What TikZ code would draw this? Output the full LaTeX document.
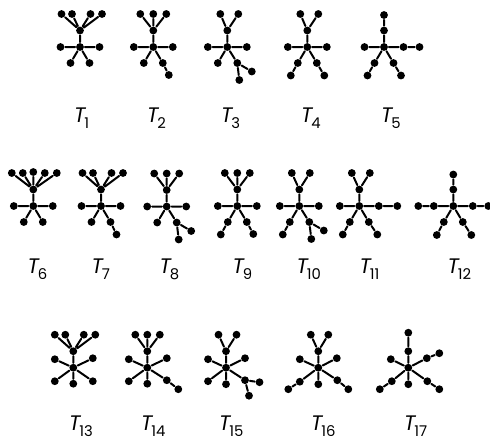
\documentclass[tikz,border=0pt]{standalone}
\usepackage{fontspec}
\setmainfont{Poppins}
\usepackage{tikz}
\tikzset{
  dot/.style={circle,fill=black,inner sep=0pt,minimum size=3.9pt},
  lbl/.style={inner sep=0pt,anchor=base west,font=\fontsize{10.5}{12}\selectfont}
}
\newcommand{\Tlab}[1]{{\itshape T}\kern-0.5pt\raisebox{-3pt}{\fontsize{7.4}{8}\selectfont #1}}

\begin{document}
\begin{tikzpicture}[x=0.5pt,y=-0.5pt,line width=1pt,line cap=round,line join=round]
\path[use as bounding box] (0,0) rectangle (490,440);
% T1
\begin{scope}[shift={(80,47)}]
\node[dot] (t1) at (0,0) {};
\node[dot] (t1h) at (0,-16.5) {};
\node[dot] (t1a) at (-18.5,-33) {};
\node[dot] (t1b) at (-8,-33) {};
\node[dot] (t1c) at (10.5,-33) {};
\node[dot] (t1d) at (22,-33) {};
\node[dot] (t1l) at (-19.5,0) {};
\node[dot] (t1r) at (19.5,0) {};
\node[dot] (t1p) at (-9.5,16) {};
\node[dot] (t1q) at (9.5,16) {};
\draw (t1) -- (t1h) (t1h) -- (t1a) (t1h) -- (t1b) (t1h) -- (t1c) (t1h) -- (t1d)
      (t1) -- (t1l) (t1) -- (t1r) (t1) -- (t1p) (t1) -- (t1q);
\end{scope}
% T2
\begin{scope}[shift={(153.3,47)}]
\node[dot] (t2) at (0,0) {};
\node[dot] (t2h) at (0,-16.5) {};
\node[dot] (t2a) at (-13,-33) {};
\node[dot] (t2b) at (0,-33) {};
\node[dot] (t2c) at (13,-33) {};
\node[dot] (t2l) at (-19.5,0) {};
\node[dot] (t2r) at (19.5,0) {};
\node[dot] (t2p) at (-9.5,16) {};
\node[dot] (t2q) at (9.5,16) {};
\node[dot] (t2s) at (15.5,28) {};
\draw (t2) -- (t2h) (t2h) -- (t2a) (t2h) -- (t2b) (t2h) -- (t2c)
      (t2) -- (t2l) (t2) -- (t2r) (t2) -- (t2p) (t2) -- (t2q) (t2q) -- (t2s);
\end{scope}
% T3
\begin{scope}[shift={(227.3,47)}]
\node[dot] (t3) at (0,0) {};
\node[dot] (t3h) at (0,-16.5) {};
\node[dot] (t3a) at (-7,-33) {};
\node[dot] (t3b) at (11,-33) {};
\node[dot] (t3l) at (-19.5,0) {};
\node[dot] (t3r) at (19.5,0) {};
\node[dot] (t3p) at (-9.5,16) {};
\node[dot] (t3q) at (10,16) {};
\node[dot] (t3s) at (24.5,24.5) {};
\node[dot] (t3t) at (12,33) {};
\draw (t3) -- (t3h) (t3h) -- (t3a) (t3h) -- (t3b)
      (t3) -- (t3l) (t3) -- (t3r) (t3) -- (t3p) (t3) -- (t3q)
      (t3q) -- (t3s) (t3q) -- (t3t);
\end{scope}
% T4
\begin{scope}[shift={(307.3,47)}]
\node[dot] (t4) at (0,0) {};
\node[dot] (t4h) at (0,-16.5) {};
\node[dot] (t4a) at (-7,-33) {};
\node[dot] (t4b) at (11,-33) {};
\node[dot] (t4l) at (-19.5,0) {};
\node[dot] (t4r) at (19.5,0) {};
\node[dot] (t4p) at (-9.5,16) {};
\node[dot] (t4u) at (-16.5,28.5) {};
\node[dot] (t4q) at (9.5,16) {};
\node[dot] (t4s) at (17,28.5) {};
\draw (t4) -- (t4h) (t4h) -- (t4a) (t4h) -- (t4b)
      (t4) -- (t4l) (t4) -- (t4r) (t4) -- (t4p) (t4p) -- (t4u)
      (t4) -- (t4q) (t4q) -- (t4s);
\end{scope}
% T5
\begin{scope}[shift={(384,47)}]
\node[dot] (t5) at (0,0) {};
\node[dot] (t5h) at (0,-16.5) {};
\node[dot] (t5a) at (0,-32) {};
\node[dot] (t5l) at (-19.5,0) {};
\node[dot] (t5r) at (19.5,0) {};
\node[dot] (t5v) at (35.5,0) {};
\node[dot] (t5p) at (-9.5,16) {};
\node[dot] (t5u) at (-16.5,28.5) {};
\node[dot] (t5q) at (9.5,16) {};
\node[dot] (t5s) at (17,28.5) {};
\draw (t5) -- (t5h) (t5h) -- (t5a)
      (t5) -- (t5l) (t5) -- (t5r) (t5r) -- (t5v)
      (t5) -- (t5p) (t5p) -- (t5u) (t5) -- (t5q) (t5q) -- (t5s);
\end{scope}
% T6
\begin{scope}[shift={(33.3,206)}]
\node[dot] (t6) at (0,0) {};
\node[dot] (t6h) at (0,-16.5) {};
\node[dot] (t6a) at (-21.5,-33) {};
\node[dot] (t6b) at (-10.5,-33) {};
\node[dot] (t6c) at (0,-34) {};
\node[dot] (t6d) at (11.5,-33) {};
\node[dot] (t6e) at (23.5,-33) {};
\node[dot] (t6l) at (-19.5,0) {};
\node[dot] (t6r) at (19.5,0) {};
\node[dot] (t6p) at (-9.5,16) {};
\node[dot] (t6q) at (9.5,16) {};
\draw (t6) -- (t6h) (t6h) -- (t6a) (t6h) -- (t6b) (t6h) -- (t6c) (t6h) -- (t6d) (t6h) -- (t6e)
      (t6) -- (t6l) (t6) -- (t6r) (t6) -- (t6p) (t6) -- (t6q);
\end{scope}
% T7
\begin{scope}[shift={(101,206)}]
\node[dot] (t7) at (0,0) {};
\node[dot] (t7h) at (0,-16.5) {};
\node[dot] (t7a) at (-18.5,-33) {};
\node[dot] (t7b) at (-8,-33) {};
\node[dot] (t7c) at (10.5,-33) {};
\node[dot] (t7d) at (22,-33) {};
\node[dot] (t7l) at (-19.5,0) {};
\node[dot] (t7r) at (19.5,0) {};
\node[dot] (t7p) at (-9.5,16) {};
\node[dot] (t7q) at (9.5,16) {};
\node[dot] (t7s) at (15.5,28.5) {};
\draw (t7) -- (t7h) (t7h) -- (t7a) (t7h) -- (t7b) (t7h) -- (t7c) (t7h) -- (t7d)
      (t7) -- (t7l) (t7) -- (t7r) (t7) -- (t7p) (t7) -- (t7q) (t7q) -- (t7s);
\end{scope}
% T8
\begin{scope}[shift={(166.7,206.5)}]
\node[dot] (t8) at (0,0) {};
\node[dot] (t8h) at (0,-16.5) {};
\node[dot] (t8a) at (-12.5,-33) {};
\node[dot] (t8b) at (0,-33) {};
\node[dot] (t8c) at (12.5,-33) {};
\node[dot] (t8l) at (-19.5,0) {};
\node[dot] (t8r) at (19.5,0) {};
\node[dot] (t8p) at (-9.5,16) {};
\node[dot] (t8q) at (10,16) {};
\node[dot] (t8s) at (24.5,24.5) {};
\node[dot] (t8t) at (12,33) {};
\draw (t8) -- (t8h) (t8h) -- (t8a) (t8h) -- (t8b) (t8h) -- (t8c)
      (t8) -- (t8l) (t8) -- (t8r) (t8) -- (t8p) (t8) -- (t8q)
      (t8q) -- (t8s) (t8q) -- (t8t);
\end{scope}
% T9
\begin{scope}[shift={(237.3,206)}]
\node[dot] (t9) at (0,0) {};
\node[dot] (t9h) at (0,-16.5) {};
\node[dot] (t9a) at (-12.5,-33) {};
\node[dot] (t9b) at (0,-33) {};
\node[dot] (t9c) at (12.5,-33) {};
\node[dot] (t9l) at (-19.5,0) {};
\node[dot] (t9r) at (19.5,0) {};
\node[dot] (t9p) at (-9.5,16) {};
\node[dot] (t9u) at (-16.5,28.5) {};
\node[dot] (t9q) at (9.5,16) {};
\node[dot] (t9s) at (16,28) {};
\draw (t9) -- (t9h) (t9h) -- (t9a) (t9h) -- (t9b) (t9h) -- (t9c)
      (t9) -- (t9l) (t9) -- (t9r) (t9) -- (t9p) (t9p) -- (t9u)
      (t9) -- (t9q) (t9q) -- (t9s);
\end{scope}
% T10
\begin{scope}[shift={(299.3,206)}]
\node[dot] (t10) at (0,0) {};
\node[dot] (t10h) at (0,-16.5) {};
\node[dot] (t10a) at (-7.5,-33) {};
\node[dot] (t10b) at (10.5,-33) {};
\node[dot] (t10l) at (-19.5,0) {};
\node[dot] (t10r) at (19.5,0) {};
\node[dot] (t10p) at (-9.5,16) {};
\node[dot] (t10u) at (-16.5,28.5) {};
\node[dot] (t10q) at (10,16) {};
\node[dot] (t10s) at (24.5,24.5) {};
\node[dot] (t10t) at (12,33) {};
\draw (t10) -- (t10h) (t10h) -- (t10a) (t10h) -- (t10b)
      (t10) -- (t10l) (t10) -- (t10r) (t10) -- (t10p) (t10p) -- (t10u)
      (t10) -- (t10q) (t10q) -- (t10s) (t10q) -- (t10t);
\end{scope}
% T11
\begin{scope}[shift={(359.3,206)}]
\node[dot] (t11) at (0,0) {};
\node[dot] (t11h) at (0,-16.5) {};
\node[dot] (t11a) at (-7.5,-33) {};
\node[dot] (t11b) at (10.5,-33) {};
\node[dot] (t11l) at (-19.5,0) {};
\node[dot] (t11r) at (19.5,0) {};
\node[dot] (t11v) at (38,0) {};
\node[dot] (t11p) at (-9.5,16) {};
\node[dot] (t11u) at (-16.5,28.5) {};
\node[dot] (t11q) at (9.5,16) {};
\node[dot] (t11s) at (18,28.5) {};
\draw (t11) -- (t11h) (t11h) -- (t11a) (t11h) -- (t11b)
      (t11) -- (t11l) (t11) -- (t11r) (t11r) -- (t11v)
      (t11) -- (t11p) (t11p) -- (t11u) (t11) -- (t11q) (t11q) -- (t11s);
\end{scope}
% T12
\begin{scope}[shift={(453.3,206)}]
\node[dot] (t12) at (0,0) {};
\node[dot] (t12h) at (0,-16.5) {};
\node[dot] (t12a) at (0,-31.5) {};
\node[dot] (t12l) at (-19.5,0) {};
\node[dot] (t12w) at (-35,0) {};
\node[dot] (t12r) at (19.5,0) {};
\node[dot] (t12v) at (35,0) {};
\node[dot] (t12p) at (-9.5,16) {};
\node[dot] (t12u) at (-16.5,29) {};
\node[dot] (t12q) at (9.5,16) {};
\node[dot] (t12s) at (18,29) {};
\draw (t12) -- (t12h) (t12h) -- (t12a)
      (t12) -- (t12l) (t12l) -- (t12w) (t12) -- (t12r) (t12r) -- (t12v)
      (t12) -- (t12p) (t12p) -- (t12u) (t12) -- (t12q) (t12q) -- (t12s);
\end{scope}
% T13
\begin{scope}[shift={(73.3,367.7)}]
\node[dot] (t13) at (0,0) {};
\node[dot] (t13h) at (0,-16.5) {};
\node[dot] (t13a) at (-18.5,-33) {};
\node[dot] (t13b) at (-8,-33) {};
\node[dot] (t13c) at (10.5,-33) {};
\node[dot] (t13d) at (22,-33) {};
\node[dot] (t13l) at (-18.5,-8.5) {};
\node[dot] (t13r) at (19.5,-9.5) {};
\node[dot] (t13p) at (-18.5,13.5) {};
\node[dot] (t13o) at (0,16) {};
\node[dot] (t13q) at (19.5,13.5) {};
\draw (t13) -- (t13h) (t13h) -- (t13a) (t13h) -- (t13b) (t13h) -- (t13c) (t13h) -- (t13d)
      (t13) -- (t13l) (t13) -- (t13r) (t13) -- (t13p) (t13) -- (t13o) (t13) -- (t13q);
\end{scope}
% T14
\begin{scope}[shift={(147.3,367.7)}]
\node[dot] (t14) at (0,0) {};
\node[dot] (t14h) at (0,-16.5) {};
\node[dot] (t14a) at (-12,-33) {};
\node[dot] (t14b) at (0,-33) {};
\node[dot] (t14c) at (12.5,-33) {};
\node[dot] (t14l) at (-18.5,-8.5) {};
\node[dot] (t14r) at (19.5,-9.5) {};
\node[dot] (t14p) at (-18.5,13.5) {};
\node[dot] (t14o) at (0,16) {};
\node[dot] (t14q) at (19.5,12.5) {};
\node[dot] (t14s) at (31,21.5) {};
\draw (t14) -- (t14h) (t14h) -- (t14a) (t14h) -- (t14b) (t14h) -- (t14c)
      (t14) -- (t14l) (t14) -- (t14r) (t14) -- (t14p) (t14) -- (t14o)
      (t14) -- (t14q) (t14q) -- (t14s);
\end{scope}
% T15
\begin{scope}[shift={(226,367.7)}]
\node[dot] (t15) at (0,0) {};
\node[dot] (t15h) at (0,-16.5) {};
\node[dot] (t15a) at (-7.5,-33) {};
\node[dot] (t15b) at (10.5,-33) {};
\node[dot] (t15l) at (-18,-8.5) {};
\node[dot] (t15r) at (19,-9.5) {};
\node[dot] (t15p) at (-18,13.5) {};
\node[dot] (t15o) at (0,16.5) {};
\node[dot] (t15q) at (19,12.5) {};
\node[dot] (t15s) at (33.5,14.5) {};
\node[dot] (t15t) at (23,28) {};
\draw (t15) -- (t15h) (t15h) -- (t15a) (t15h) -- (t15b)
      (t15) -- (t15l) (t15) -- (t15r) (t15) -- (t15p) (t15) -- (t15o)
      (t15) -- (t15q) (t15q) -- (t15s) (t15q) -- (t15t);
\end{scope}
% T16
\begin{scope}[shift={(318.3,367.7)}]
\node[dot] (t16) at (0,0) {};
\node[dot] (t16h) at (0,-16.5) {};
\node[dot] (t16a) at (-7.5,-33) {};
\node[dot] (t16b) at (10,-33) {};
\node[dot] (t16l) at (-18.5,-8.5) {};
\node[dot] (t16r) at (18.5,-9.5) {};
\node[dot] (t16p) at (-18.5,14) {};
\node[dot] (t16u) at (-30,21.5) {};
\node[dot] (t16o) at (0,16.5) {};
\node[dot] (t16q) at (19,12.5) {};
\node[dot] (t16s) at (30,21.5) {};
\draw (t16) -- (t16h) (t16h) -- (t16a) (t16h) -- (t16b)
      (t16) -- (t16l) (t16) -- (t16r) (t16) -- (t16p) (t16p) -- (t16u)
      (t16) -- (t16o) (t16) -- (t16q) (t16q) -- (t16s);
\end{scope}
% T17
\begin{scope}[shift={(408.3,367.7)}]
\node[dot] (t17) at (0,0) {};
\node[dot] (t17h) at (0,-16.5) {};
\node[dot] (t17a) at (0,-35) {};
\node[dot] (t17l) at (-17.5,-8.5) {};
\node[dot] (t17r) at (18.5,-9.5) {};
\node[dot] (t17v) at (31,-14.5) {};
\node[dot] (t17p) at (-16.5,13.5) {};
\node[dot] (t17u) at (-28.5,21.5) {};
\node[dot] (t17o) at (0,16.5) {};
\node[dot] (t17q) at (19,13.5) {};
\node[dot] (t17s) at (31,21.5) {};
\draw (t17) -- (t17h) (t17h) -- (t17a)
      (t17) -- (t17l) (t17) -- (t17r) (t17r) -- (t17v)
      (t17) -- (t17p) (t17p) -- (t17u) (t17) -- (t17o)
      (t17) -- (t17q) (t17q) -- (t17s);
\end{scope}
% labels
\node[lbl] (l1) at (73,122) {\Tlab{1}};
\node[lbl] (l2) at (146,122) {\Tlab{2}};
\node[lbl] (l3) at (220,122) {\Tlab{3}};
\node[lbl] (l4) at (300,122) {\Tlab{4}};
\node[lbl] (l5) at (380,122) {\Tlab{5}};
\node[lbl] (l6) at (26.5,273) {\Tlab{6}};
\node[lbl] (l7) at (90.5,273) {\Tlab{7}};
\node[lbl] (l8) at (158.5,273) {\Tlab{8}};
\node[lbl] (l9) at (231.5,273) {\Tlab{9}};
\node[lbl] (l10) at (295.5,273) {\Tlab{10}};
\node[lbl] (l11) at (358.5,273) {\Tlab{11}};
\node[lbl] (l12) at (446.5,273) {\Tlab{12}};
\node[lbl] (l13) at (68,430) {\Tlab{13}};
\node[lbl] (l14) at (140,430) {\Tlab{14}};
\node[lbl] (l15) at (218,430) {\Tlab{15}};
\node[lbl] (l16) at (310,430) {\Tlab{16}};
\node[lbl] (l17) at (403,430) {\Tlab{17}};
\end{tikzpicture}
\end{document}
